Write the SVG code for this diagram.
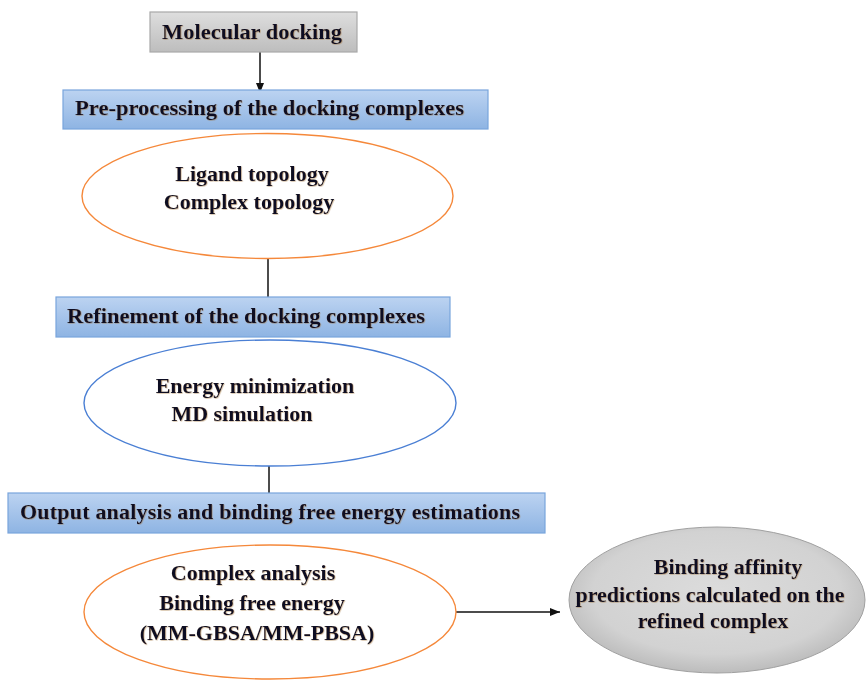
<svg xmlns="http://www.w3.org/2000/svg" width="866" height="682" viewBox="0 0 866 682">
  <defs>
    <linearGradient id="gradGray" x1="0" y1="0" x2="0" y2="1">
      <stop offset="0" stop-color="#dedede"/>
      <stop offset="1" stop-color="#bdbdbd"/>
    </linearGradient>
    <linearGradient id="gradBlue" x1="0" y1="0" x2="0" y2="1">
      <stop offset="0" stop-color="#bcd3f1"/>
      <stop offset="1" stop-color="#8eb4e3"/>
    </linearGradient>
    <radialGradient id="gradOval" cx="0.5" cy="0.45" r="0.6">
      <stop offset="0" stop-color="#dcdcdc"/>
      <stop offset="0.7" stop-color="#d2d2d2"/>
      <stop offset="1" stop-color="#b4b4b4"/>
    </radialGradient>
    <filter id="glow" x="-5%" y="-20%" width="110%" height="140%">
      <feDropShadow dx="0.6" dy="0.6" stdDeviation="0.6" flood-color="#9a6a30" flood-opacity="0.55"/>
    </filter>
    <marker id="arrow" viewBox="0 0 10 10" refX="10" refY="5" markerWidth="10" markerHeight="10" markerUnits="userSpaceOnUse" orient="auto">
      <path d="M0,1 L10,5 L0,9 Z" fill="#111"/>
    </marker>
  </defs>
  <style>
    text { font-family: "Liberation Serif", "Times New Roman", serif; font-weight: bold; font-size: 22px; fill: #111122; filter: url(#glow); }
    .mid { text-anchor: middle; }
    .box { fill: url(#gradBlue); stroke: #79a5dc; stroke-width: 1.2; }
    .orange { fill: #ffffff; stroke: #f5883a; stroke-width: 1.4; }
    .blue { fill: #ffffff; stroke: #4a7fd4; stroke-width: 1.4; }
    .wire { stroke: #111; stroke-width: 1.5; fill: none; }
  </style>

  <rect width="866" height="682" fill="#ffffff"/>

  <!-- connectors -->
  <g id="connectors">
    <line class="wire" x1="260" y1="52" x2="260" y2="93" marker-end="url(#arrow)"/>
    <line class="wire" x1="268" y1="259" x2="268" y2="297"/>
    <line class="wire" x1="269" y1="466" x2="269" y2="493"/>
    <line class="wire" x1="456" y1="612" x2="560" y2="612" marker-end="url(#arrow)"/>
  </g>

  <g id="docking">
    <rect x="150" y="12" width="207" height="40" fill="url(#gradGray)" stroke="#a8a8a8" stroke-width="1.2"/>
    <text x="162" y="39" textLength="180" lengthAdjust="spacingAndGlyphs">Molecular docking</text>
  </g>

  <g id="preprocessing">
    <rect class="box" x="63" y="90" width="425" height="39"/>
    <text x="75" y="115" textLength="389" lengthAdjust="spacingAndGlyphs">Pre-processing of the docking complexes</text>
  </g>

  <g id="topology">
    <ellipse class="orange" cx="267.5" cy="196" rx="185.5" ry="62.5"/>
    <text class="mid" x="252" y="181">Ligand topology</text>
    <text class="mid" x="249" y="209">Complex topology</text>
  </g>

  <g id="refinement">
    <rect class="box" x="56" y="297" width="394" height="40"/>
    <text x="67" y="323" textLength="358" lengthAdjust="spacingAndGlyphs">Refinement of the docking complexes</text>
  </g>

  <g id="simulation">
    <ellipse class="blue" cx="270" cy="403" rx="186" ry="63"/>
    <text class="mid" x="255" y="393">Energy minimization</text>
    <text class="mid" x="242" y="421">MD simulation</text>
  </g>

  <g id="output">
    <rect class="box" x="8" y="493" width="537" height="40"/>
    <text x="20" y="519" textLength="500" lengthAdjust="spacing">Output analysis and binding free energy estimations</text>
  </g>

  <g id="analysis">
    <ellipse class="orange" cx="270" cy="612" rx="186" ry="67"/>
    <text class="mid" x="253" y="580">Complex analysis</text>
    <text class="mid" x="252" y="610">Binding free energy</text>
    <text class="mid" x="257" y="640">(MM-GBSA/MM-PBSA)</text>
  </g>

  <g id="affinity">
    <ellipse cx="717" cy="600" rx="148" ry="73" fill="url(#gradOval)" stroke="#a0a0a0" stroke-width="1"/>
    <text class="mid" x="728" y="574">Binding affinity</text>
    <text class="mid" x="710" y="602">predictions calculated on the</text>
    <text class="mid" x="713" y="628">refined complex</text>
  </g>
</svg>
